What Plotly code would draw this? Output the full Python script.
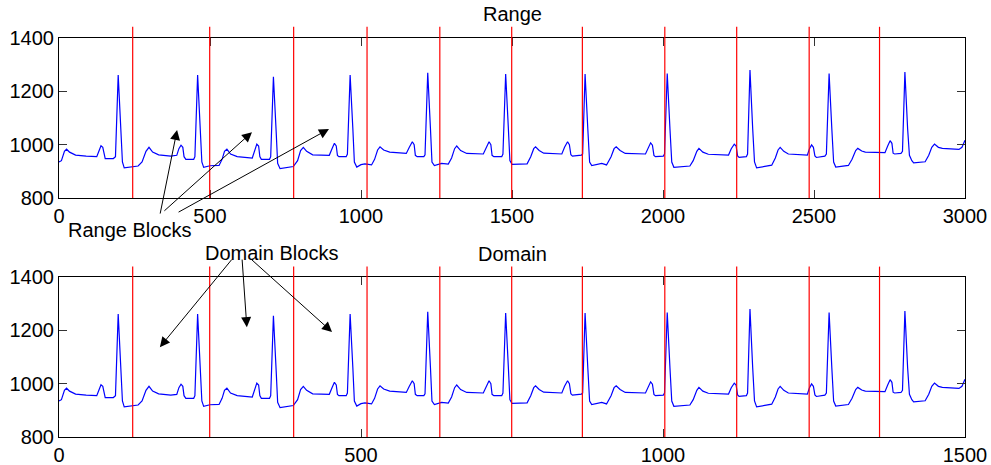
import plotly.graph_objects as go
from plotly.subplots import make_subplots

range_idx = [0, 8, 18, 25, 35, 55, 90, 125, 132, 139, 145, 149, 153, 180, 187, 196, 205, 210, 216, 235, 262, 275, 288, 298, 310, 330, 370,
             390, 397, 404, 410, 414, 420, 446, 450, 459, 468, 473, 479, 500, 530, 540, 548, 556, 568, 590, 640,
             646, 655, 661, 665, 670, 697, 701, 710, 719, 724, 732, 750, 776, 790, 800, 809, 820, 840, 895,
             904, 912, 918, 922, 927, 951, 955, 964, 973, 978, 986, 1000, 1013, 1035, 1045, 1055, 1063, 1075, 1095, 1150,
             1160, 1170, 1176, 1180, 1186, 1208, 1212, 1221, 1230, 1235, 1243, 1267, 1289, 1300, 1310, 1317, 1330, 1350, 1405,
             1414, 1424, 1430, 1434, 1440, 1466, 1470, 1479, 1488, 1493, 1500, 1525, 1550, 1562, 1572, 1578, 1590, 1605, 1665,
             1674, 1684, 1690, 1695, 1700, 1730, 1734, 1742, 1751, 1757, 1764, 1780, 1797, 1813, 1828, 1838, 1845, 1858, 1875, 1942,
             1950, 1959, 1965, 1970, 1975, 2001, 2005, 2014, 2023, 2029, 2036, 2062, 2089, 2100, 2112, 2119, 2132, 2150, 2217,
             2226, 2236, 2242, 2247, 2252, 2276, 2280, 2288, 2297, 2303, 2310, 2338, 2360, 2372, 2381, 2388, 2400, 2415, 2478,
             2485, 2492, 2498, 2503, 2508, 2536, 2541, 2550, 2559, 2565, 2572, 2590, 2614, 2626, 2638, 2645, 2658, 2670, 2735,
             2744, 2752, 2758, 2762, 2767, 2788, 2793, 2801, 2810, 2816, 2824, 2830, 2868, 2880, 2890, 2899, 2912, 2925, 2980,
             2990, 3000]
ecg_values = [935, 940, 975, 983, 972, 961, 957, 955, 975, 996, 990, 960, 948, 948, 955, 1261, 1060, 935, 913, 917, 920, 935, 975, 990, 972, 962, 957,
              960, 985, 998, 990, 955, 945, 945, 955, 1261, 1060, 935, 915, 921, 922, 945, 975, 983, 965, 955, 950,
              975, 1002, 995, 955, 945, 945, 955, 1255, 1050, 930, 910, 913, 918, 940, 978, 990, 975, 962, 960,
              985, 1005, 995, 960, 955, 955, 965, 1261, 1060, 935, 916, 925, 928, 924, 945, 980, 992, 980, 972, 967,
              990, 1011, 1000, 960, 955, 955, 962, 1270, 1060, 935, 922, 930, 927, 950, 985, 995, 978, 967, 965,
              990, 1011, 1000, 960, 955, 955, 965, 1265, 1060, 940, 926, 928, 928, 955, 985, 992, 978, 968, 965,
              990, 1011, 1000, 962, 957, 961, 965, 1265, 1060, 935, 922, 925, 930, 924, 955, 985, 992, 978, 967, 965,
              988, 1007, 998, 960, 955, 957, 965, 1267, 1060, 935, 915, 917, 920, 940, 975, 986, 972, 964, 961,
              985, 1002, 995, 958, 952, 955, 965, 1280, 1060, 935, 913, 920, 923, 950, 980, 990, 975, 965, 961,
              985, 999, 990, 958, 952, 957, 965, 1267, 1060, 935, 916, 918, 922, 945, 978, 986, 976, 972, 970,
              995, 1015, 1005, 968, 965, 967, 975, 1272, 1060, 960, 940, 932, 936, 960, 990, 1002, 990, 986, 982,
              990, 1017]

DECIMATION = 2  # domain blocks are the signal decimated by 2
domain_idx = [i / DECIMATION for i in range_idx]

# block boundaries (range sample index)
range_bounds = [244, 499, 777, 1020, 1261, 1499, 1733, 2006, 2244, 2484, 2717]
domain_bounds = [b / DECIMATION for b in range_bounds]

range_ticks = [0, 500, 1000, 1500, 2000, 2500, 3000]
domain_ticks = [0, 500, 1000, 1500]
y_ticks = [800, 1000, 1200, 1400]

FONT = "Liberation Sans, Arial, sans-serif"

fig = make_subplots(rows=2, cols=1, vertical_spacing=0.198)

fig.add_trace(go.Scatter(x=range_idx, y=ecg_values, mode="lines",
                         line=dict(color="#0000ff", width=1.2), showlegend=False), row=1, col=1)
fig.add_trace(go.Scatter(x=domain_idx, y=ecg_values, mode="lines",
                         line=dict(color="#0000ff", width=1.2), showlegend=False), row=2, col=1)

for b in range_bounds:
    fig.add_shape(type="line", xref="x", yref="y domain", x0=b, x1=b, y0=0, y1=1.07,
                  line=dict(color="#ff0000", width=1.2))
for b in domain_bounds:
    fig.add_shape(type="line", xref="x2", yref="y2 domain", x0=b, x1=b, y0=0, y1=1.065,
                  line=dict(color="#ff0000", width=1.2))

axis_common = dict(showline=True, linecolor="black", linewidth=1, mirror="allticks",
                   ticks="inside", ticklen=8, tickcolor="#333333", showgrid=False, zeroline=False,
                   automargin=False,
                   tickfont=dict(family=FONT, size=20, color="black"))

fig.update_xaxes(range=[0, 3000], tickvals=range_ticks, row=1, col=1, **axis_common)
fig.update_xaxes(range=[0, 1500], tickvals=domain_ticks, row=2, col=1, **axis_common)
fig.update_yaxes(range=[800, 1400], tickvals=y_ticks, row=1, col=1, **axis_common)
fig.update_yaxes(range=[800, 1400], tickvals=y_ticks, row=2, col=1, **axis_common)

text_common = dict(xref="paper", yref="paper", showarrow=False, xanchor="center", yanchor="middle")
annotations = [
    dict(text="Range", x=0.5, y=1.060, **text_common),
    dict(text="Domain", x=0.5, y=0.4586, **text_common),
    dict(text="Range Blocks", x=0.0773, y=0.5188, **text_common),
    dict(text="Domain Blocks", x=0.235, y=0.461, **text_common),
]
# Range Blocks arrows (tail -> head), top axes coords
range_arrows = [((334, 736), (391, 1055)), ((344, 747), (639, 1047)), ((391, 744), (894, 1059))]
for (tx, ty), (hx, hy) in range_arrows:
    annotations.append(dict(text="", x=hx, y=hy, ax=tx, ay=ty, xref="x", yref="y", axref="x", ayref="y",
                            showarrow=True, arrowhead=2, arrowsize=2, arrowwidth=1, arrowcolor="black"))
domain_arrows = [((288, 1471), (167, 1137)), ((303, 1471), (311, 1212)), ((316, 1471), (452, 1194))]
for (tx, ty), (hx, hy) in domain_arrows:
    annotations.append(dict(text="", x=hx, y=hy, ax=tx, ay=ty, xref="x2", yref="y2", axref="x2", ayref="y2",
                            showarrow=True, arrowhead=2, arrowsize=2, arrowwidth=1, arrowcolor="black"))

fig.update_layout(
    width=991, height=465,
    margin=dict(l=59, r=26, t=38, b=28),
    paper_bgcolor="white", plot_bgcolor="white",
    font=dict(family=FONT, size=20, color="black"),
    annotations=annotations,
    showlegend=False,
)

fig.write_html("out.html")
